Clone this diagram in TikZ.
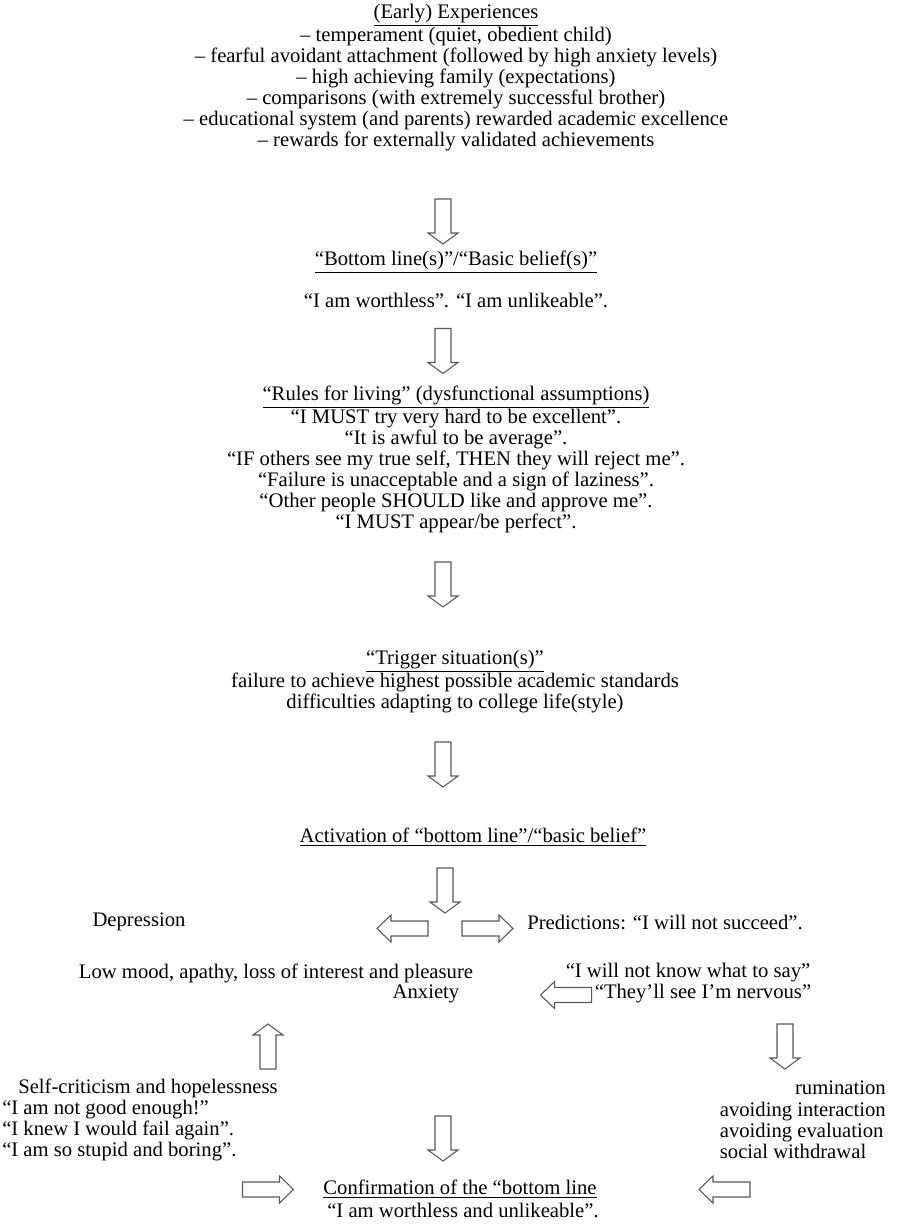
\documentclass[tikz,border=0pt]{standalone}
\usepackage{fontspec}
\setmainfont{Liberation Serif}
\usetikzlibrary{calc}
\begin{document}
\begin{tikzpicture}[x=0.75pt,y=-0.75pt,
  txt/.style={inner sep=0pt, align=center, font=\fontsize{15.5}{15.75}\selectfont},
  txtl/.style={txt, align=left},
  arrline/.style={draw=black!65, line width=0.8pt, fill=white, line join=miter},
  pics/varr/.style={code={\draw[arrline] (-22.5,-8) -- (11.5,-8) -- (11.5,-15)
      -- (22.5,0) -- (11.5,15) -- (11.5,8) -- (-22.5,8) -- cycle;}},
  pics/harr/.style={code={\draw[arrline] (-25.5,-7.5) -- (11.5,-7.5) -- (11.5,-13.5)
      -- (25.5,0) -- (11.5,13.5) -- (11.5,7.5) -- (-25.5,7.5) -- cycle;}}]
\useasboundingbox (0,0) rectangle (913,1231);

\node[txt] (exp) at (456,77.5) {\underline{(Early) Experiences}\\
– temperament (quiet, obedient child)\\
– fearful avoidant attachment (followed by high anxiety levels)\\
– high achieving family (expectations)\\
– comparisons (with extremely successful brother)\\
– educational system (and parents) rewarded academic excellence\\
– rewards for externally validated achievements};

\pic[rotate=-90] (a1) at (443,221.5) {varr};

\node[txt] (blt) at (456,262) {\underline{“Bottom line(s)”/“Basic belief(s)”}};
\node[txt] (bl) at (456,300) {“I am worthless”. “I am unlikeable”.};

\pic[rotate=-90] (a2) at (443,351) {varr};

\node[txt] (rules) at (456,459.5) {\underline{“Rules for living” (dysfunctional assumptions)}\\
“I MUST try very hard to be excellent”.\\
“It is awful to be average”.\\
“IF others see my true self, THEN they will reject me”.\\
“Failure is unacceptable and a sign of laziness”.\\
“Other people SHOULD like and approve me”.\\
“I MUST appear/be perfect”.};

\pic[rotate=-90] (a3) at (443,584.5) {varr};

\node[txt] (trig) at (455,681.5) {\underline{“Trigger situation(s)”}\\
failure to achieve highest possible academic standards\\
difficulties adapting to college life(style)};

\pic[rotate=-90] (a4) at (443,764.5) {varr};

\node[txt] (act) at (473,837) {\underline{Activation of “bottom line”/“basic belief”}};

\pic[rotate=-90] (a5) at (445,890.5) {varr};
\pic[rotate=180] (la) at (402.5,928.5) {harr};
\pic (ra) at (487.5,928.5) {harr};

\node[txt] (dep) at (139,922) {Depression};
\node[txt, anchor=west] (pred) at (527,922) {Predictions: “I will not succeed”.};

\node[txt] (low) at (276,973) {Low mood, apathy, loss of interest and pleasure};
\node[txt] (anx) at (426,994) {Anxiety};

\node[txt] (know) at (688,973) {“I will not know what to say”};
\node[txt] (nerv) at (703,994) {“They’ll see I’m nervous”};
\pic[rotate=180] (la2) at ($(nerv.west)+(-28.5,1)$) {harr};

\pic[rotate=90] (ua) at (268,1046.5) {varr};
\pic[rotate=-90] (da2) at (785,1046.5) {varr};

\node[txtl, anchor=west] (self) at (2,1119.5) {\hspace*{12pt}Self-criticism and hopelessness\\
“I am not good enough!”\\
“I knew I would fail again”.\\
“I am so stupid and boring”.};

\node[txt, anchor=east] (rum) at (886,1088) {rumination};
\node[txtl, anchor=east] (avoid) at (886,1130) {avoiding interaction\\
avoiding evaluation\\
social withdrawal};

\pic[rotate=-90] (a6) at (443,1138.5) {varr};

\node[txt] (conf) at (460,1189) {\underline{Confirmation of the “bottom line}};
\node[txt] (confl) at (463,1210) {“I am worthless and unlikeable”.};
\pic (ra2) at (268,1189.5) {harr};
\pic[rotate=180] (la3) at (724.5,1189.5) {harr};
\end{tikzpicture}
\end{document}
